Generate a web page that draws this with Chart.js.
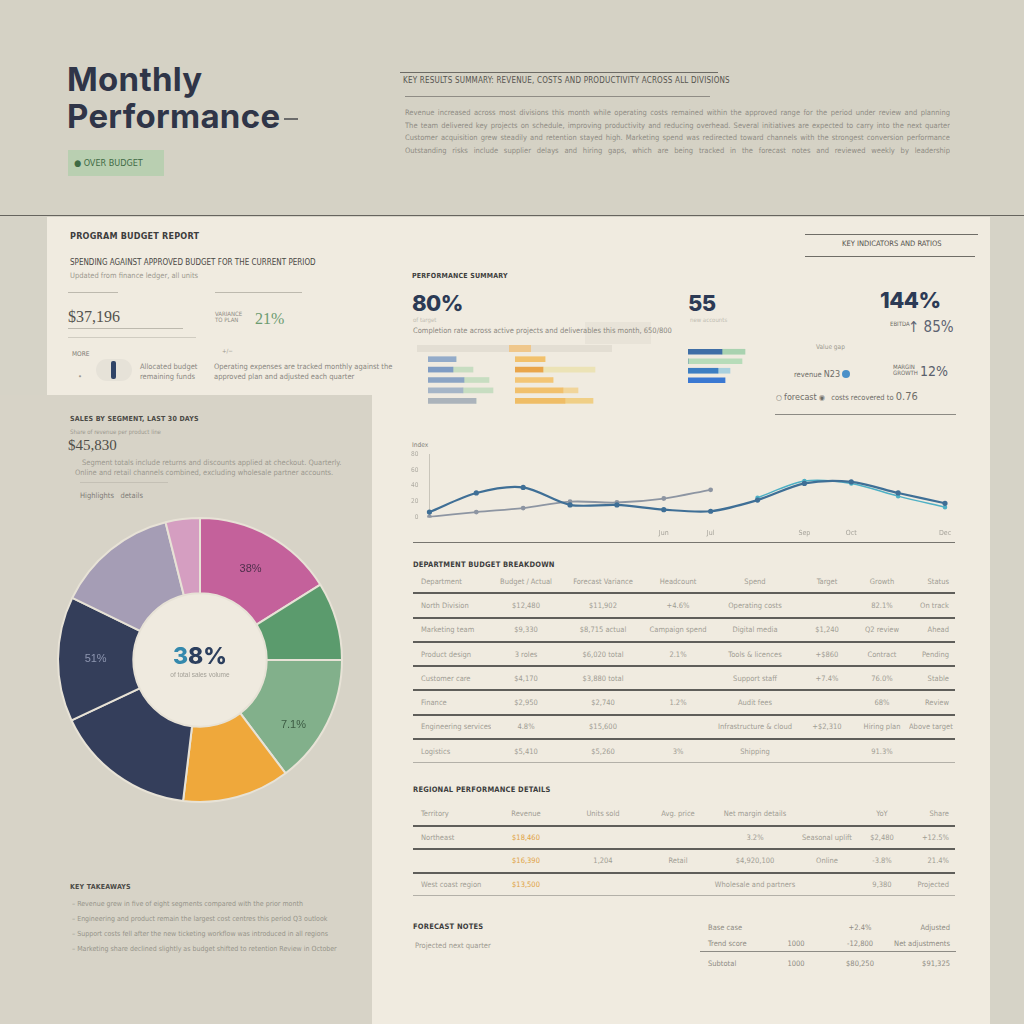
<!DOCTYPE html>
<html>
<head>
<meta charset="utf-8">
<title>Monthly Performance</title>
<script src="https://cdn.jsdelivr.net/npm/chart.js@4.4.1/dist/chart.umd.min.js"></script>
<style>
  html, body { margin: 0; padding: 0; }
  body { width: 1024px; height: 1024px; position: relative; overflow: hidden; background: #d6d3c7; font-family: "Liberation Sans Narrow", "DejaVu Sans Condensed", sans-serif; }
  .abs { position: absolute; }
  .t { position: absolute; white-space: nowrap; }
  .tiny { font-size: 7.5px; color: #9c998f; }
  .lab { font-size: 8px; font-weight: bold; color: #3d3d3d; letter-spacing: 0.2px; }
  .rule { position: absolute; height: 1px; background: #bdb9ae; }
  .kpi { font-family: Inter, "DejaVu Sans", sans-serif; font-weight: 800; color: #2c3a55; letter-spacing: -0.5px; }
  .serif { font-family: "Liberation Serif", "DejaVu Serif", serif; }
  table { border-collapse: collapse; table-layout: fixed; }
  td { padding: 0; font-size: 7.5px; color: #a09d94; text-align: center; white-space: nowrap; overflow: hidden; }
  td:first-child { text-align: left; padding-left: 8px; }
  td:last-child { text-align: right; padding-right: 6px; }
</style>
</head>
<body>

<!-- header band -->
<div class="abs" style="left:0;top:0;width:1024px;height:215px;background:#d5d2c5;border-bottom:1px solid #66645e;"></div>
<!-- cream page -->
<div class="abs" style="left:47px;top:217px;width:943px;height:807px;background:#f0ebe0;"></div>
<!-- grey left panel -->
<div class="abs" style="left:0;top:395px;width:372px;height:629px;background:#d7d3c7;"></div>

<!-- title -->
<div class="t kpi" style="left:67px;top:61px;font-size:33px;line-height:37px;color:#2f3548;font-weight:700;letter-spacing:0.3px;">Monthly<br>Performance<span style="display:inline-block;width:14px;height:2px;background:#6b6b6b;margin-left:4px;vertical-align:8px;"></span></div>
<div class="t" style="left:68px;top:150px;width:96px;height:26px;background:#b9cfb1;font-size:9px;line-height:26px;color:#3f6b45;text-indent:6px;">&#9679; OVER BUDGET</div>

<!-- header summary -->
<div class="rule" style="left:400px;top:72px;width:318px;background:#6d6b65;"></div>
<div class="t" style="left:403px;top:76px;font-size:8px;color:#56544f;letter-spacing:0.2px;">KEY RESULTS SUMMARY: REVENUE, COSTS AND PRODUCTIVITY ACROSS ALL DIVISIONS</div>
<div class="rule" style="left:405px;top:96px;width:305px;background:#8f8c85;"></div>
<div id="headerText" class="abs" style="left:405px;top:107px;width:545px;"></div>

<!-- top-left card -->
<div class="t lab" style="left:70px;top:231px;font-size:9px;">PROGRAM BUDGET REPORT</div>
<div class="t" style="left:70px;top:258px;font-size:8px;color:#4a4945;">SPENDING AGAINST APPROVED BUDGET FOR THE CURRENT PERIOD</div>
<div class="t tiny" style="left:70px;top:271px;">Updated from finance ledger, all units</div>
<div class="rule" style="left:68px;top:292px;width:50px;"></div>
<div class="rule" style="left:215px;top:292px;width:87px;"></div>
<div class="t serif" style="left:68px;top:308px;font-size:16px;color:#55534e;">$37,196</div>
<div class="t" style="left:215px;top:311px;font-size:6px;line-height:6px;color:#8e8b84;">VARIANCE<br>TO PLAN</div>
<div class="t serif" style="left:255px;top:310px;font-size:16px;color:#6c9b70;">21%</div>
<div class="rule" style="left:68px;top:328px;width:115px;"></div>
<div class="rule" style="left:68px;top:337px;width:128px;background:#d0ccc1;"></div>
<div class="t tiny" style="left:72px;top:350px;font-size:6.5px;color:#7c7a74;">MORE</div>
<div class="t tiny" style="left:78px;top:372px;">&#8226;</div>
<div class="abs" style="left:96px;top:359px;width:36px;height:22px;border-radius:11px;background:#e6e2d8;"></div>
<div class="abs" style="left:111px;top:361px;width:5px;height:18px;border-radius:2px;background:#2f4366;"></div>
<div class="t tiny" style="left:140px;top:362px;line-height:10px;color:#8a8780;">Allocated budget<br>remaining funds</div>
<div class="t tiny" style="left:222px;top:347px;font-size:6px;">+/&#8722;</div>
<div class="t tiny" style="left:214px;top:362px;line-height:10px;color:#8a8780;">Operating expenses are tracked monthly against the<br>approved plan and adjusted each quarter</div>

<!-- right top heading -->
<div class="rule" style="left:805px;top:234px;width:173px;background:#6f6d67;"></div>
<div class="t" style="left:842px;top:239px;font-size:7.5px;color:#54524d;">KEY INDICATORS AND RATIOS</div>
<div class="rule" style="left:805px;top:256px;width:170px;background:#6f6d67;"></div>

<!-- KPI row -->
<div class="t lab" style="left:412px;top:272px;font-size:7px;">PERFORMANCE SUMMARY</div>
<div class="t kpi" style="left:412px;top:290px;font-size:22px;">80%</div>
<div class="t tiny" style="left:413px;top:316px;font-size:6px;color:#c0bcb2;">of target</div>
<div class="abs" style="left:585px;top:322px;width:66px;height:22px;background:#e8e3d8;"></div>
<div class="t tiny" style="left:413px;top:326px;color:#8b8880;">Completion rate across active projects and deliverables this month, 650/800</div>
<div class="abs" style="left:417px;top:345px;width:195px;height:7px;background:#e3ded3;"></div>
<div class="abs" style="left:509px;top:345px;width:22px;height:7px;background:#efc78c;"></div>
<div class="t kpi" style="left:688px;top:290px;font-size:22px;">55</div>
<div class="t tiny" style="left:690px;top:316px;font-size:6px;color:#c0bcb2;">new accounts</div>
<div class="t kpi" style="left:880px;top:287px;font-size:22px;">144%</div>
<div class="t tiny" style="left:890px;top:320px;font-size:6px;color:#6d6b66;">EBITDA</div>
<div class="t" style="left:908px;top:318px;font-size:15px;color:#5d6372;font-family:'DejaVu Sans Condensed',sans-serif;">&#8593; 85%</div>
<div class="t tiny" style="left:816px;top:343px;font-size:6.5px;">Value gap</div>
<div class="t tiny" style="left:794px;top:369px;color:#6f6d68;">revenue <span style="font-size:9px;">N23</span> <span style="display:inline-block;width:8px;height:8px;border-radius:4px;background:#4a90c8;vertical-align:-1px;"></span></div>
<div class="t tiny" style="left:893px;top:364px;font-size:6px;line-height:6px;color:#6f6d68;">MARGIN<br>GROWTH</div>
<div class="t" style="left:920px;top:363px;font-size:14px;color:#5a5f6c;font-family:'DejaVu Sans Condensed',sans-serif;">12%</div>
<div class="t tiny" style="left:776px;top:390px;color:#6f6d68;">&#9675; <span style="font-size:9px;">forecast</span> &#9673; &nbsp; costs recovered to <span style="font-size:11px;">0.76</span></div>
<div class="rule" style="left:775px;top:414px;width:181px;background:#8c8a84;"></div>

<!-- KPI mini bars -->
<canvas id="barsBlue" class="abs" width="75" height="52" style="left:428px;top:354px;"></canvas>
<canvas id="barsOrange" class="abs" width="90" height="52" style="left:515px;top:354px;"></canvas>
<canvas id="barsRatio" class="abs" width="62" height="38" style="left:688px;top:347px;"></canvas>

<!-- line chart -->
<div class="t tiny" style="left:412px;top:441px;font-size:6.5px;color:#7d7b75;">Index</div>
<canvas id="trendChart" class="abs" width="560" height="104" style="left:400px;top:436px;"></canvas>
<div class="rule" style="left:413px;top:542px;width:542px;background:#77756f;"></div>

<!-- tables -->
<div class="t lab" style="left:413px;top:560px;font-size:7.5px;">DEPARTMENT BUDGET BREAKDOWN</div>
<table id="deptTable" class="abs" style="left:413px;top:570px;width:542px;"></table>
<div class="t lab" style="left:413px;top:785px;font-size:7.5px;">REGIONAL PERFORMANCE DETAILS</div>
<table id="regionTable" class="abs" style="left:413px;top:803px;width:542px;"></table>

<!-- forecast -->
<div class="t lab" style="left:413px;top:922px;font-size:7.5px;">FORECAST NOTES</div>
<div class="t tiny" style="left:415px;top:941px;">Projected next quarter</div>
<table id="forecastTable" class="abs" style="left:700px;top:919px;width:256px;"></table>

<!-- left lower panel -->
<div class="t lab" style="left:70px;top:415px;font-size:7px;color:#4b4a46;">SALES BY SEGMENT, LAST 30 DAYS</div>
<div class="t tiny" style="left:70px;top:428px;font-size:6px;">Share of revenue per product line</div>
<div class="t serif" style="left:68px;top:437px;font-size:15px;color:#4f4e4a;">$45,830</div>
<div class="t tiny" style="left:82px;top:458px;">Segment totals include returns and discounts applied at checkout. Quarterly.</div>
<div class="t tiny" style="left:75px;top:468px;">Online and retail channels combined, excluding wholesale partner accounts.</div>
<div class="rule" style="left:80px;top:482px;width:88px;background:#c4c0b5;"></div>
<div class="t tiny" style="left:80px;top:491px;color:#7f7d77;">Highlights &nbsp;&nbsp;details</div>
<canvas id="shareChart" class="abs" width="300" height="300" style="left:50px;top:510px;"></canvas>

<div class="t lab" style="left:70px;top:883px;font-size:7px;color:#4b4a46;">KEY TAKEAWAYS</div>
<div id="notes" class="abs" style="left:72px;top:897px;width:285px;"></div>

<script>
// Donut: share of revenue by segment (percent)
const segments = ["Marketing", "Sales", "Services", "Support", "Product", "Engineering", "Finance", "Other"];
const shareValues = [16.1, 8.9, 14.7, 12.2, 16.1, 14.2, 13.9, 3.9];
const shareColors = ["#c4619b", "#5b9b6d", "#82b08b", "#efa83b", "#343e5b", "#343e5a", "#a59db5", "#d59ec1"];
const shareLabels = ["38%", "", "7.1%", "", "", "51%", "", ""];

// Trend line chart
const months = ["Jan", "Feb", "Mar", "Apr", "May", "Jun", "Jul", "Aug", "Sep", "Oct", "Nov", "Dec"];
const shownMonths = ["Jun", "Jul", "Sep", "Oct", "Dec"];
const revenueIndex = [7, 31, 38, 16, 16, 10, 8, 22, 43, 45, 31, 18];
const costIndex = [1, 7, 12, 20, 19, 24, 35, null, null, null, null, null];
const targetIndex = [null, null, null, null, null, null, null, 25, 46, 43, 27, 13];

// Mini bars (KPI block)
const barRows5 = ["A", "B", "C", "D", "E"];
const completedVals = [28, 25, 36, 35, 48];
const inProgressVals = [0, 20, 25, 30, 0];
const spendVals = [30, 28, 38, 48, 50];
const spendExtraVals = [0, 52, 0, 15, 28];
const barRows4 = ["Q1", "Q2", "Q3", "Q4"];
const ratioBlueVals = [34, 0, 30, 37];
const ratioGreenVals = [23, 54, 12, 0];

// Tables
const deptRows = [
  ["Department", "Budget / Actual", "Forecast Variance", "Headcount", "Spend", "Target", "Growth", "Status"],
  ["North Division", "$12,480", "$11,902", "+4.6%", "Operating costs", "", "82.1%", "On track"],
  ["Marketing team", "$9,330", "$8,715 actual", "Campaign spend", "Digital media", "$1,240", "Q2 review", "Ahead"],
  ["Product design", "3 roles", "$6,020 total", "2.1%", "Tools & licences", "+$860", "Contract", "Pending"],
  ["Customer care", "$4,170", "$3,880 total", "", "Support staff", "+7.4%", "76.0%", "Stable"],
  ["Finance", "$2,950", "$2,740", "1.2%", "Audit fees", "", "68%", "Review"],
  ["Engineering services", "4.8%", "$15,600", "", "Infrastructure & cloud", "+$2,310", "Hiring plan", "Above target"],
  ["Logistics", "$5,410", "$5,260", "3%", "Shipping", "", "91.3%", ""]
];
const regionRows = [
  ["Territory", "Revenue", "Units sold", "Avg. price", "Net margin details", "", "YoY", "Share"],
  ["Northeast", "$18,460", "", "", "3.2%", "Seasonal uplift", "$2,480", "+12.5%"],
  ["", "$16,390", "1,204", "Retail", "$4,920,100", "Online", "-3.8%", "21.4%"],
  ["West coast region", "$13,500", "", "", "Wholesale and partners", "", "9,380", "Projected"]
];
const forecastRows = [
  ["Base case", "", "+2.4%", "Adjusted"],
  ["Trend score", "1000", "-12,800", "Net adjustments"],
  ["Subtotal", "1000", "$80,250", "$91,325"]
];
const headerLines = [
  "Revenue increased across most divisions this month while operating costs remained within the approved range for the period under review and planning",
  "The team delivered key projects on schedule, improving productivity and reducing overhead. Several initiatives are expected to carry into the next quarter",
  "Customer acquisition grew steadily and retention stayed high. Marketing spend was redirected toward channels with the strongest conversion performance",
  "Outstanding risks include supplier delays and hiring gaps, which are being tracked in the forecast notes and reviewed weekly by leadership"
];
const noteLines = [
  "Revenue grew in five of eight segments compared with the prior month",
  "Engineering and product remain the largest cost centres this period          Q3 outlook",
  "Support costs fell after the new ticketing workflow was introduced in all regions",
  "Marketing share declined slightly as budget shifted to retention          Review in October"
];

Chart.defaults.animation = false;
Chart.defaults.font.family = "'Liberation Sans Narrow', 'DejaVu Sans Condensed', sans-serif";

// header paragraph and notes
const headerText = document.getElementById("headerText");
headerLines.forEach(line => {
  const div = document.createElement("div");
  div.textContent = line;
  div.style.cssText = "font-size:7.5px;line-height:12.5px;color:#8f8c84;text-align:justify;text-align-last:justify;white-space:nowrap;overflow:hidden;";
  headerText.appendChild(div);
});
const notes = document.getElementById("notes");
noteLines.forEach(line => {
  const div = document.createElement("div");
  div.textContent = "\u2013 " + line;
  div.style.cssText = "font-size:7px;line-height:15px;color:#96938a;white-space:nowrap;";
  notes.appendChild(div);
});

function fillTable(id, rows, widths, rowHeight, orangeCol) {
  const table = document.getElementById(id);
  const colgroup = document.createElement("colgroup");
  widths.forEach(w => {
    const col = document.createElement("col");
    col.style.width = w + "px";
    colgroup.appendChild(col);
  });
  table.appendChild(colgroup);
  rows.forEach((row, r) => {
    const tr = document.createElement("tr");
    const last = r === rows.length - 1;
    tr.style.borderBottom = last ? "1px solid #b3b0a8" : "2px solid #5f5e5a";
    row.forEach((cell, c) => {
      const td = document.createElement("td");
      td.textContent = cell;
      td.style.height = rowHeight + "px";
      if (orangeCol === c && r > 0) td.style.color = "#e0a244";
      tr.appendChild(td);
    });
    table.appendChild(tr);
  });
}
fillTable("deptTable", deptRows, [78, 70, 84, 66, 88, 56, 54, 46], 22.3, -1);
fillTable("regionTable", regionRows, [78, 70, 84, 66, 88, 56, 54, 46], 21.5, 1);
(function () {
  const table = document.getElementById("forecastTable");
  forecastRows.forEach((row, r) => {
    const tr = document.createElement("tr");
    if (r === 1) tr.style.borderBottom = "1px solid #8d8b85";
    row.forEach(cell => {
      const td = document.createElement("td");
      td.textContent = cell;
      td.style.height = r === 2 ? "22px" : "16px";
      td.style.color = "#8f8c84";
      tr.appendChild(td);
    });
    table.appendChild(tr);
  });
})();

// Donut chart
const donutDecor = {
  id: "donutDecor",
  beforeDatasetsDraw(chart) {
    const arc = chart.getDatasetMeta(0).data[0];
    const { x, y, innerRadius } = arc.getProps(["x", "y", "innerRadius"], true);
    const ctx = chart.ctx;
    ctx.save();
    ctx.fillStyle = "#efeadf";
    ctx.beginPath();
    ctx.arc(x, y, innerRadius, 0, Math.PI * 2);
    ctx.fill();
    ctx.restore();
  },
  afterDatasetsDraw(chart) {
    const ctx = chart.ctx;
    const meta = chart.getDatasetMeta(0);
    const { x, y } = meta.data[0].getProps(["x", "y"], true);
    ctx.save();
    ctx.textBaseline = "middle";
    ctx.font = "800 23px Inter, 'DejaVu Sans', sans-serif";
    const w3 = ctx.measureText("3").width;
    const wAll = ctx.measureText("38%").width;
    ctx.textAlign = "left";
    ctx.fillStyle = "#3489ad";
    ctx.fillText("3", x - wAll / 2, y - 3);
    ctx.fillStyle = "#2c3f5e";
    ctx.fillText("8%", x - wAll / 2 + w3, y - 3);
    ctx.textAlign = "center";
    ctx.font = "6.5px 'Liberation Sans Narrow', sans-serif";
    ctx.fillStyle = "#a3a097";
    ctx.fillText("of total sales volume", x, y + 15);
    meta.data.forEach((el, i) => {
      if (!shareLabels[i]) return;
      const pos = el.tooltipPosition();
      ctx.font = "11px 'Liberation Sans Narrow', sans-serif";
      ctx.fillStyle = i === 5 ? "#8e96b0" : (i === 2 ? "#3d5c44" : "#4f2f4c");
      ctx.fillText(shareLabels[i], pos.x, pos.y + (i === 2 ? 18 : 0));
    });
    ctx.restore();
  }
};
new Chart(document.getElementById("shareChart"), {
  type: "doughnut",
  data: {
    labels: segments,
    datasets: [{
      data: shareValues,
      backgroundColor: shareColors,
      borderColor: "#e7e2d6",
      borderWidth: 2,
    }],
  },
  options: {
    responsive: false,
    radius: 142,
    cutout: 70,
    plugins: { legend: { display: false }, tooltip: { enabled: false } },
  },
  plugins: [donutDecor],
});

// Trend line chart
new Chart(document.getElementById("trendChart"), {
  type: "line",
  data: {
    labels: months,
    datasets: [
      { label: "Revenue", data: revenueIndex, borderColor: "#3f6f96", borderWidth: 2.2, tension: 0.3, pointRadius: 1.5, pointBackgroundColor: "#3f6f96" },
      { label: "Costs", data: costIndex, borderColor: "#8d95a2", borderWidth: 1.8, tension: 0.35, pointRadius: 1.5, pointBackgroundColor: "#8d95a2" },
      { label: "Target", data: targetIndex, borderColor: "#4eb0c5", borderWidth: 1.5, tension: 0.3, pointRadius: 1.5, pointBackgroundColor: "#4eb0c5" },
    ],
  },
  options: {
    responsive: false,
    layout: { padding: { left: 8, right: 15, top: 18, bottom: 0 } },
    plugins: { legend: { display: false }, tooltip: { enabled: false } },
    scales: {
      x: {
        grid: { display: false },
        border: { display: false },
        ticks: {
          autoSkip: false,
          maxRotation: 0,
          color: "#a5a299",
          font: { size: 7 },
          callback: function (value) {
            const label = this.getLabelForValue(value);
            return shownMonths.includes(label) ? label : "";
          },
        },
      },
      y: {
        min: 0,
        max: 80,
        grid: { display: false },
        border: { color: "#c9c5ba" },
        ticks: { stepSize: 20, color: "#aeaba2", font: { size: 6.5 } },
      },
    },
  },
});

// Mini horizontal bars
function miniBars(id, labels, first, second, firstColors, secondColors, max) {
  new Chart(document.getElementById(id), {
    type: "bar",
    data: {
      labels: labels,
      datasets: [
        { data: first, backgroundColor: firstColors, barThickness: 5 },
        { data: second, backgroundColor: secondColors, barThickness: 5 },
      ],
    },
    options: {
      indexAxis: "y",
      responsive: false,
      layout: { padding: 0 },
      plugins: { legend: { display: false }, tooltip: { enabled: false } },
      scales: {
        x: { display: false, stacked: true, min: 0, max: max },
        y: { display: false, stacked: true },
      },
    },
  });
}
miniBars("barsBlue", barRows5, completedVals, inProgressVals,
  ["#93abc9", "#7f9cc3", "#8ba4c4", "#a5b5c7", "#abb3bb"], "#c7ddc1", 75);
miniBars("barsOrange", barRows5, spendVals, spendExtraVals,
  ["#f2c16c", "#e9a54a", "#f3c575", "#f1c06c", "#efbd66"], ["#f3dca8", "#ece3b6", "#f3dca8", "#f1d59a", "#f0cf86"], 90);
miniBars("barsRatio", barRows4, ratioBlueVals, ratioGreenVals,
  ["#3f6ea6", "#3f6ea6", "#3c7ec2", "#3a78d2"], ["#a9d2b0", "#b7dcb9", "#a9d0de", "#c9d9ef"], 62);
</script>
</body>
</html>
